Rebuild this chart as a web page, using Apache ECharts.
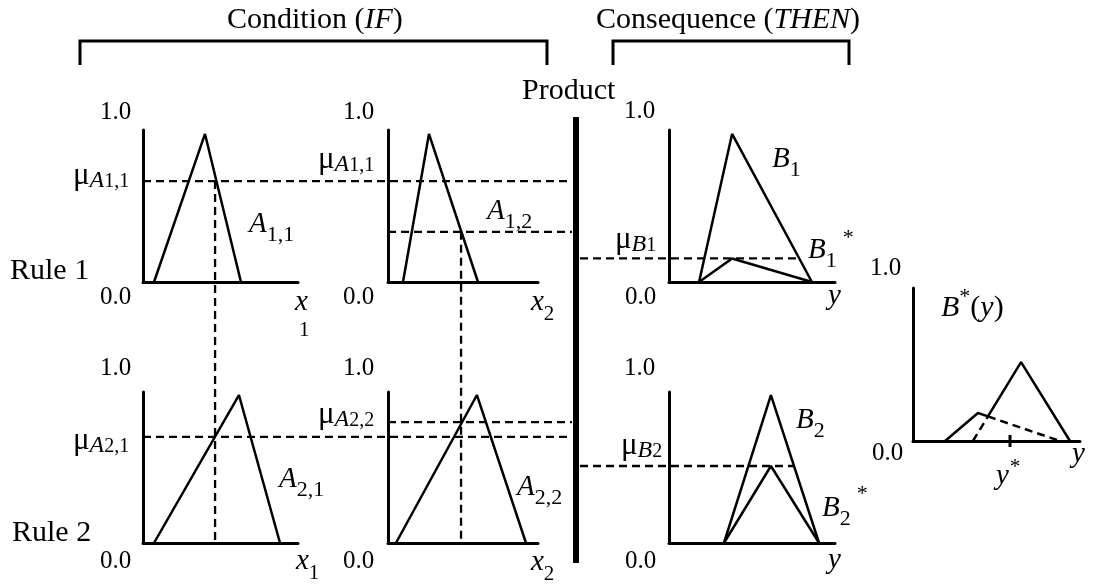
<!DOCTYPE html>
<html><head><meta charset="utf-8">
<script src="https://cdn.jsdelivr.net/npm/echarts@6/dist/echarts.min.js"></script>
<style>html,body{margin:0;padding:0;background:#fff}#c{width:1096px;height:586px}</style>
</head><body><div id="c"></div>
<script>
// ---------- data: membership functions as [x, mu] in each panel's own 0..1 units ----------
const A11 = [[0.071, 0], [0.400, 0.974], [0.632, 0]];
const A12 = [[0.100, 0], [0.273, 0.974], [0.600, 0]];
const A21 = [[0.071, 0], [0.619, 0.980], [0.884, 0]];
const A22 = [[0.053, 0], [0.593, 0.980], [0.920, 0]];
const B1 = [[0.181, 0], [0.380, 0.974], [0.861, 0]];
const B2 = [[0.331, 0], [0.614, 0.980], [0.904, 0]];
const B1star = [[0.181, 0], [0.380, 0.155], [0.861, 0]];
const B2star = [[0.331, 0], [0.614, 0.510], [0.904, 0]];
const B1out = [[0.192, 0], [0.389, 0.183], [0.880, 0]];
const B2out = [[0.359, 0], [0.647, 0.516], [0.940, 0]];
const xInputs = [0.465, 0.487];      // x1*, x2*
const muRule1 = [0.664, 0.330];      // mu A1,1 , mu A1,2
const muRule2 = [0.703, 0.800];      // mu A2,1 , mu A2,2
const muB = [0.155, 0.510];          // mu B1 , mu B2
const yStar = 0.581;
const tickLabels = ['0.0', '1.0'];

// ---------- layout ----------
const grids = [
  {left: 143, top: 130, width: 155, height: 152},
  {left: 388, top: 130, width: 150, height: 152},
  {left: 669, top: 130, width: 166, height: 152},
  {left: 143, top: 392, width: 155, height: 151},
  {left: 388, top: 392, width: 150, height: 151},
  {left: 669, top: 392, width: 166, height: 151},
  {left: 913, top: 288, width: 167, height: 153}
];
const axisCommon = {type: 'value', min: 0, max: 1, axisTick: {show: false}, axisLabel: {show: false},
  splitLine: {show: false}, axisLine: {show: true, onZero: false, lineStyle: {color: '#000', width: 3}}};

function solid(g, data) {
  return {type: 'line', xAxisIndex: g, yAxisIndex: g, data: data, symbol: 'none', showSymbol: false,
    lineStyle: {color: '#000', width: 2.5}, clip: false, silent: true, animation: false, z: 3};
}
function dashed(g, data) {
  const s = solid(g, data); s.lineStyle = {color: '#000', width: 2.5, type: [8, 5]}; return s;
}
function intersect(p1, p2, p3, p4) {
  const d = (p2[0] - p1[0]) * (p4[1] - p3[1]) - (p2[1] - p1[1]) * (p4[0] - p3[0]);
  const t = ((p3[0] - p1[0]) * (p4[1] - p3[1]) - (p3[1] - p1[1]) * (p4[0] - p3[0])) / d;
  return [p1[0] + t * (p2[0] - p1[0]), p1[1] + t * (p2[1] - p1[1])];
}
const P = intersect(B1out[1], B1out[2], B2out[0], B2out[1]);

const series = [
  solid(0, A11), solid(1, A12), solid(2, B1), solid(2, B1star),
  solid(3, A21), solid(4, A22), solid(5, B2), solid(5, B2star),
  solid(6, [B1out[0], B1out[1], P, B2out[1], B2out[2]]),
  dashed(6, [B2out[0], P]), dashed(6, [P, B1out[2]]),
  Object.assign(solid(6, [[yStar, -0.04], [yStar, 0.04]]), {lineStyle: {color: '#000', width: 3}})
];

const chart = echarts.init(document.getElementById('c'), null, {renderer: 'canvas'});
chart.setOption({
  backgroundColor: '#fff', animation: false,
  grid: grids,
  xAxis: grids.map((g, i) => Object.assign({gridIndex: i}, axisCommon)),
  yAxis: grids.map((g, i) => Object.assign({gridIndex: i}, axisCommon)),
  series: series
});

// ---------- annotations ----------
const FONT = '"Liberation Serif", "Times New Roman", serif';
const ctx = document.createElement('canvas').getContext('2d');
function label(x, y, parts) {
  let cx = x; const out = [];
  parts.forEach(p => {
    const t = p[0], size = p[1], it = p[2], dy = p[3] || 0, dx = p[4] || 0;
    const font = (it ? 'italic ' : '') + size + 'px ' + FONT;
    ctx.font = font; cx += dx;
    out.push({type: 'text', x: cx, y: y + dy, silent: true,
      style: {text: t, font: font, fill: '#000', textAlign: 'left', textVerticalAlign: 'middle'}});
    cx += ctx.measureText(t).width;
  });
  return out;
}
const px = (g, pt) => chart.convertToPixel({gridIndex: g}, pt);
const dashStyle = {stroke: '#000', lineWidth: 2.3, lineDash: [8, 5]};
function dline(a, b) { return {type: 'line', silent: true, z: 5, shape: {x1: a[0], y1: a[1], x2: b[0], y2: b[1]}, style: dashStyle}; }
function legX(tri, mu) { return tri[2][0] - mu / tri[1][1] * (tri[2][0] - tri[1][0]); }

const barX = 576, barL = barX - 4, barR = barX + 4;
const g = [];
g.push({type: 'polyline', silent: true, shape: {points: [[80, 65], [80, 41], [547, 41], [547, 65]]}, style: {stroke: '#000', lineWidth: 3, fill: null}});
g.push({type: 'polyline', silent: true, shape: {points: [[613, 65], [613, 41], [849, 41], [849, 65]]}, style: {stroke: '#000', lineWidth: 3, fill: null}});
g.push({type: 'line', silent: true, shape: {x1: barX, y1: 117, x2: barX, y2: 563}, style: {stroke: '#000', lineWidth: 6}});
const h11 = px(0, [0, muRule1[0]]), h12 = px(1, [0, muRule1[1]]);
const h21 = px(3, [0, muRule2[0]]), h22 = px(4, [0, muRule2[1]]);
g.push(dline(h11, [barL, h11[1]]), dline(h12, [barL, h12[1]]), dline(h21, [barL, h21[1]]), dline(h22, [barL, h22[1]]));
g.push(dline(px(0, [xInputs[0], muRule1[0]]), px(3, [xInputs[0], 0])));
g.push(dline(px(1, [xInputs[1], muRule1[1]]), px(4, [xInputs[1], 0])));
const e1 = px(2, [legX(B1, muB[0]), muB[0]]), e2 = px(5, [legX(B2, muB[1]), muB[1]]);
g.push(dline([barR, e1[1]], e1), dline([barR, e2[1]], e2));

const L = [
  [227, 20, [['Condition (', 30], ['IF', 30, 1], [')', 30]]],
  [596, 20, [['Consequence (', 30], ['THEN', 30, 1], [')', 30]]],
  [522, 91, [['Product', 30]]],
  [10, 271, [['Rule 1', 30]]],
  [12, 533, [['Rule 2', 30]]],
  [100, 112, [[tickLabels[1], 25]]], [343, 112, [[tickLabels[1], 25]]], [624, 111, [[tickLabels[1], 25]]],
  [100, 368, [[tickLabels[1], 25]]], [343, 368, [[tickLabels[1], 25]]], [624, 368, [[tickLabels[1], 25]]],
  [870, 268, [[tickLabels[1], 25]]],
  [100, 297, [[tickLabels[0], 25]]], [343, 297, [[tickLabels[0], 25]]], [625, 297, [[tickLabels[0], 25]]],
  [100, 561, [[tickLabels[0], 25]]], [343, 561, [[tickLabels[0], 25]]], [625, 561, [[tickLabels[0], 25]]],
  [872, 453, [[tickLabels[0], 25]]],
  [295, 302, [['x', 29, 1]]], [299, 330, [['1', 21]]],
  [531, 302, [['x', 29, 1], ['2', 21, 0, 12]]],
  [828, 296, [['y', 29, 1]]],
  [296, 561, [['x', 29, 1], ['1', 21, 0, 12]]],
  [531, 562, [['x', 29, 1], ['2', 21, 0, 12]]],
  [828, 560, [['y', 29, 1]]],
  [1072, 454, [['y', 29, 1]]],
  [996, 476, [['y', 29, 1], ['*', 21, 0, -9, 1]]],
  [249, 224, [['A', 29, 1], ['1,1', 22, 0, 11]]],
  [487, 211, [['A', 29, 1], ['1,2', 22, 0, 11]]],
  [279, 479, [['A', 29, 1], ['2,1', 22, 0, 11]]],
  [517, 487, [['A', 29, 1], ['2,2', 22, 0, 11]]],
  [772, 159, [['B', 29, 1], ['1', 22, 0, 11]]],
  [808, 250, [['B', 29, 1], ['1', 22, 0, 11], ['*', 22, 0, -12, 6]]],
  [796, 420, [['B', 29, 1], ['2', 22, 0, 11]]],
  [822, 508, [['B', 29, 1], ['2', 22, 0, 11], ['*', 22, 0, -14, 6]]],
  [941, 308, [['B', 30, 1], ['*', 22, 0, -11], ['(', 30], ['y', 30, 1], [')', 30]]],
  [73, 176, [['\u03bc', 31], ['A', 24, 1, 5], ['1,1', 20, 0, 6]]],
  [318, 160, [['\u03bc', 31], ['A', 24, 1, 5], ['1,1', 20, 0, 6]]],
  [615, 240, [['\u03bc', 31], ['B', 24, 1, 5], ['1', 20, 0, 6]]],
  [73, 441, [['\u03bc', 31], ['A', 24, 1, 5], ['2,1', 20, 0, 6]]],
  [318, 415, [['\u03bc', 31], ['A', 24, 1, 5], ['2,2', 20, 0, 6]]],
  [621, 446, [['\u03bc', 31], ['B', 24, 1, 5], ['2', 20, 0, 6]]]
];
L.forEach(l => label(l[0], l[1], l[2]).forEach(e => g.push(e)));
chart.setOption({graphic: g});
</script></body></html>
